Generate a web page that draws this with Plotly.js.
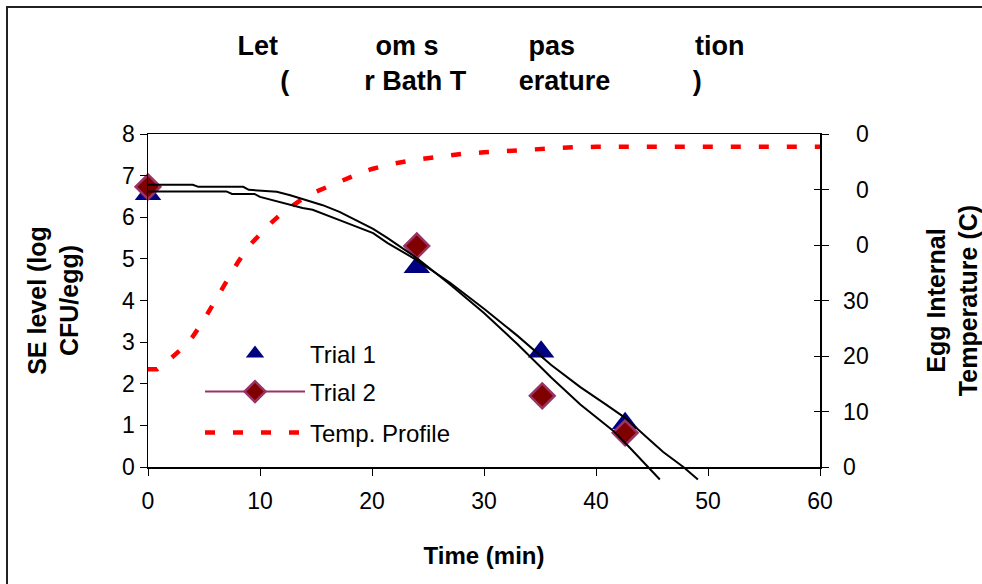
<!DOCTYPE html>
<html>
<head>
<meta charset="utf-8">
<script src="https://cdn.plot.ly/plotly-3.0.1.min.js"></script>
<style>
  html, body { margin: 0; padding: 0; background: #fff; }
  #chart { width: 982px; height: 584px; }
</style>
</head>
<body>
<div id="chart"></div>
<script>
// Observed SE counts (log CFU/egg) at sampling times (min)
const trial1Time = [0, 24, 35.1, 42.6];
const trial1Log  = [6.55, 4.8, 2.77, 1.05];
const trial2Time = [0, 24, 35.2, 42.6];
const trial2Log  = [6.73, 5.31, 1.71, 0.82];

// Predicted inactivation curves
const modelATime = [0, 4, 4.5, 8.5, 9, 11.5, 12.7, 14.2, 15.6, 17.1, 20.1, 21.4, 24, 27, 30, 33, 36, 38.6, 41.5, 43, 44.7, 45.7];
const modelALog  = [6.78, 6.78, 6.73, 6.73, 6.66, 6.61, 6.53, 6.41, 6.29, 6.13, 5.72, 5.5, 5.02, 4.38, 3.7, 2.95, 2.15, 1.5, 0.88, 0.47, 0, -0.3];
const modelBTime = [0, 7, 7.5, 9.5, 10, 11.2, 12.4, 13.8, 14.7, 16, 17.1, 20.1, 21.4, 24, 27, 30, 33, 36, 38.6, 41, 42.6, 44.5, 46, 47.8, 49.1];
const modelBLog  = [6.62, 6.62, 6.56, 6.56, 6.49, 6.41, 6.33, 6.22, 6.18, 6.05, 5.93, 5.62, 5.38, 4.97, 4.42, 3.8, 3.15, 2.45, 1.92, 1.48, 1.18, 0.72, 0.36, 0, -0.3];

// Egg internal temperature profile (C)
const tempTime = [0, 0.8, 2, 3, 4, 5, 6, 7, 8, 9, 10, 11, 12, 13, 14, 15, 16, 17, 18, 19, 20, 21, 22, 24, 26, 28, 30, 32, 34, 36, 38, 40, 45, 50, 55, 60];
const tempC    = [17.6, 17.6, 19.5, 21.3, 23.5, 26.5, 30, 33.5, 36.8, 39.8, 42, 44, 45.8, 47.3, 48.6, 49.6, 50.5, 51.3, 52.2, 53, 53.7, 54.3, 54.7, 55.4, 56, 56.4, 56.7, 57, 57.3, 57.4, 57.6, 57.7, 57.7, 57.7, 57.7, 57.7];

// Axis ticks
const xTicks = [0, 10, 20, 30, 40, 50, 60];
const yTicks = [0, 1, 2, 3, 4, 5, 6, 7, 8];
const y2Ticks = [0, 10, 20, 30, 40, 50, 60];
const y2TickText = ['0', '10', '20', '30', '\u20070', '\u20070', '\u20070'];

const FONT = 'Liberation Sans, Arial, sans-serif';
const NB = '\u00A0';
const gap = n => NB.repeat(n);

// Trial 2 drawn as separate points (null breaks) so its legend entry keeps a line
const t2x = [], t2y = [];
trial2Time.forEach((t, i) => { if (i) { t2x.push(null); t2y.push(null); } t2x.push(t); t2y.push(trial2Log[i]); });

const traces = [
  {
    x: modelATime, y: modelALog, xaxis: 'x', yaxis: 'y3', mode: 'lines',
    line: { color: '#000', width: 2 }, showlegend: false, hoverinfo: 'skip'
  },
  {
    x: modelBTime, y: modelBLog, xaxis: 'x', yaxis: 'y3', mode: 'lines',
    line: { color: '#000', width: 2 }, showlegend: false, hoverinfo: 'skip'
  },
  {
    name: 'Trial 1', x: trial1Time, y: trial1Log, mode: 'markers', cliponaxis: false,
    marker: { symbol: 'triangle-up', size: 23, color: '#000080' }, legend: 'legend'
  },
  {
    name: 'Trial 2', x: t2x, y: t2y, mode: 'lines+markers', cliponaxis: false, connectgaps: false,
    line: { color: '#993366', width: 2 },
    marker: { symbol: 'diamond', size: 19, color: '#800000', line: { color: '#993366', width: 2.5 } },
    legend: 'legend2'
  },
  {
    name: 'Temp. Profile', x: tempTime, y: tempC, yaxis: 'y2', mode: 'lines',
    line: { color: '#FF0000', width: 4.5, dash: '10px,18px' }, legend: 'legend3'
  }
];

const legendBase = {
  xanchor: 'left', yanchor: 'middle', bgcolor: 'rgba(0,0,0,0)', borderwidth: 0,
  font: { family: FONT, size: 24, color: '#000' }, itemwidth: 100
};
// plot area: 148..820 px horizontally, 134..483 px vertically (paper units)
const px = v => (v - 148) / 672;
const py = v => (483 - v) / 349;

const layout = {
  width: 982, height: 584,
  margin: { l: 148, r: 162, t: 134, b: 101 },
  paper_bgcolor: '#fff', plot_bgcolor: 'rgba(0,0,0,0)',
  font: { family: FONT, size: 23, color: '#000' },
  title: {
    text: 'Let' + gap(13) + 'om s' + gap(12) + 'pas' + gap(16) + 'tion<br>(' + gap(10) + 'r Bath T' + gap(7) + 'erature' + gap(11) + ')',
    font: { family: FONT, size: 27, color: '#000', weight: 'bold' },
    x: 0.5, xanchor: 'center', xref: 'container',
    y: 1 - 54.5 / 584, yanchor: 'middle', yref: 'container'
  },
  xaxis: {
    range: [0, 60], tickvals: xTicks, ticks: 'outside', ticklen: 7, tickwidth: 1, tickcolor: '#000',
    showline: true, linecolor: '#000', linewidth: 1.5, mirror: true, showgrid: false, zeroline: false,
    anchor: 'y', fixedrange: true, tickfont: { size: 23 }, ticklabelstandoff: 6,
    title: { text: 'Time (min)', font: { size: 24, weight: 'bold' }, standoff: 34 }
  },
  yaxis: {
    domain: [16 / 349, 1], range: [0, 8], tickvals: yTicks, ticks: 'outside', ticklen: 7, tickwidth: 1, tickcolor: '#000',
    showline: true, linecolor: '#000', linewidth: 1.5, showgrid: false, zeroline: false, anchor: 'x',
    tickfont: { size: 23 },
    title: { text: 'SE level (log<br>CFU/egg)', font: { size: 25, weight: 'bold' }, standoff: 36 }
  },
  yaxis2: {
    overlaying: 'y', side: 'right', anchor: 'x', range: [0, 60], tickvals: y2Ticks, ticktext: y2TickText,
    ticks: 'outside', ticklen: 7, tickwidth: 1, tickcolor: '#000', ticklabelstandoff: 10,
    showline: true, linecolor: '#000', linewidth: 1.5, showgrid: false, zeroline: false,
    tickfont: { size: 23 },
    title: { text: 'Egg Internal<br>Temperature (C)', font: { size: 25, weight: 'bold' }, standoff: 69 }
  },
  yaxis3: {
    domain: [0, 1], range: [-16 / 41.625, 8], anchor: 'x', visible: false, showgrid: false, zeroline: false
  },
  yaxis4: {
    overlaying: 'y', side: 'right', anchor: 'x', range: [0, 60], tickvals: y2Ticks, showticklabels: false,
    ticks: 'inside', ticklen: 6, tickwidth: 1, tickcolor: '#000', showline: false, showgrid: false, zeroline: false
  },
  legend:  Object.assign({}, legendBase, { x: px(200), y: py(354) }),
  legend2: Object.assign({}, legendBase, { x: px(200), y: py(392) }),
  legend3: Object.assign({}, legendBase, { x: px(200), y: py(433) }),
  shapes: [
    { type: 'rect', xref: 'paper', yref: 'paper', x0: px(7), x1: px(1100), y0: py(700), y1: py(7),
      line: { color: '#222', width: 2 }, layer: 'below' }
  ],
  showlegend: true
};

// invisible trace so the inside-tick overlay axis is drawn
traces.push({ x: [0], y: [0], yaxis: 'y4', mode: 'markers', marker: { opacity: 0 }, showlegend: false, hoverinfo: 'skip' });

Plotly.newPlot('chart', traces, layout, { displayModeBar: false, staticPlot: true });
</script>
</body>
</html>
